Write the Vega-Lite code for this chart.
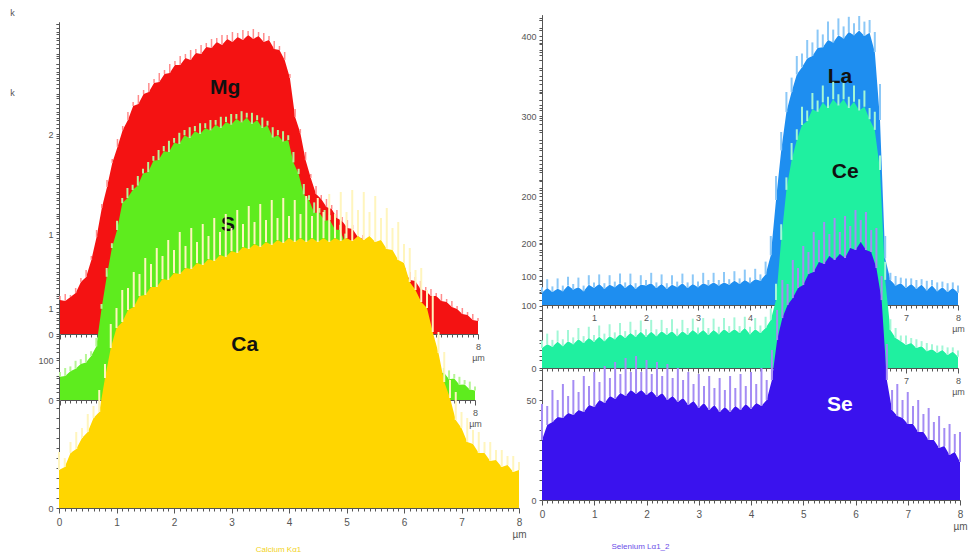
{
"$schema": "https://vega.github.io/schema/vega-lite/v6.json",
"width": 975, "height": 558, "autosize": {"type": "none"}, "padding": 0, "background": "white",
"config": {"view": {"stroke": null},
 "scale": {"nice": false},
 "axis": {"labelFont": "Liberation Sans", "labelFontSize": 9, "labelColor": "#555", "domainColor": "#555", "tickColor": "#555", "grid": false, "labelOverlap": false, "labelFlush": false, "labelPadding": 3, "titleFont": "Liberation Sans", "titleFontWeight": "normal", "titleFontSize": 9, "titleColor": "#555"},
 "text": {"font": "Liberation Sans", "fontWeight": "bold", "fontSize": 21, "color": "#111"}},
"datasets": {
"Mg": [{"x":0,"f":340,"p":380},{"x":0.1,"f":330,"p":400},{"x":0.2,"f":370,"p":390},{"x":0.3,"f":410,"p":460},{"x":0.4,"f":520,"p":560},{"x":0.5,"f":570,"p":640},{"x":0.6,"f":740,"p":780},{"x":0.7,"f":970,"p":1040},{"x":0.8,"f":1260,"p":1300},{"x":0.9,"f":1470,"p":1540},{"x":1,"f":1710,"p":1750},{"x":1.1,"f":1870,"p":1950},{"x":1.2,"f":2040,"p":2080},{"x":1.3,"f":2140,"p":2220},{"x":1.4,"f":2280,"p":2320},{"x":1.5,"f":2300,"p":2390},{"x":1.6,"f":2400,"p":2440},{"x":1.7,"f":2420,"p":2510},{"x":1.8,"f":2510,"p":2550},{"x":1.9,"f":2520,"p":2610},{"x":2,"f":2600,"p":2640},{"x":2.1,"f":2610,"p":2700},{"x":2.2,"f":2690,"p":2730},{"x":2.3,"f":2690,"p":2780},{"x":2.4,"f":2760,"p":2800},{"x":2.5,"f":2740,"p":2840},{"x":2.6,"f":2810,"p":2850},{"x":2.7,"f":2800,"p":2890},{"x":2.8,"f":2870,"p":2910},{"x":2.9,"f":2860,"p":2950},{"x":3,"f":2920,"p":2960},{"x":3.1,"f":2890,"p":2990},{"x":3.2,"f":2950,"p":2990},{"x":3.3,"f":2920,"p":3020},{"x":3.4,"f":2970,"p":3010},{"x":3.5,"f":2940,"p":3040},{"x":3.6,"f":2990,"p":3030},{"x":3.7,"f":2950,"p":3050},{"x":3.8,"f":2980,"p":3020},{"x":3.9,"f":2920,"p":3010},{"x":4,"f":2940,"p":2980},{"x":4.1,"f":2850,"p":2930},{"x":4.2,"f":2840,"p":2880},{"x":4.3,"f":2740,"p":2820},{"x":4.4,"f":2560,"p":2600},{"x":4.5,"f":2170,"p":2250},{"x":4.6,"f":2010,"p":2050},{"x":4.7,"f":1740,"p":1820},{"x":4.8,"f":1560,"p":1600},{"x":4.9,"f":1400,"p":1480},{"x":5,"f":1350,"p":1390},{"x":5.1,"f":1270,"p":1350},{"x":5.2,"f":1250,"p":1290},{"x":5.3,"f":1160,"p":1240},{"x":5.4,"f":1130,"p":1170},{"x":5.5,"f":1060,"p":1140},{"x":5.6,"f":1050,"p":1090},{"x":5.7,"f":970,"p":1050},{"x":5.8,"f":950,"p":990},{"x":5.9,"f":870,"p":950},{"x":6,"f":850,"p":890},{"x":6.1,"f":780,"p":860},{"x":6.2,"f":770,"p":810},{"x":6.3,"f":700,"p":780},{"x":6.4,"f":690,"p":730},{"x":6.5,"f":620,"p":700},{"x":6.6,"f":620,"p":660},{"x":6.7,"f":540,"p":620},{"x":6.8,"f":530,"p":570},{"x":6.9,"f":450,"p":530},{"x":7,"f":430,"p":470},{"x":7.1,"f":380,"p":450},{"x":7.2,"f":380,"p":410},{"x":7.3,"f":330,"p":400},{"x":7.4,"f":320,"p":350},{"x":7.5,"f":270,"p":330},{"x":7.6,"f":250,"p":280},{"x":7.7,"f":200,"p":260},{"x":7.8,"f":190,"p":220},{"x":7.9,"f":140,"p":200},{"x":8,"f":130,"p":160}],
"S": [{"x":0,"f":58,"p":70},{"x":0.1,"f":60,"p":80},{"x":0.2,"f":72,"p":84},{"x":0.3,"f":78,"p":98},{"x":0.4,"f":90,"p":102},{"x":0.5,"f":94,"p":115},{"x":0.6,"f":110,"p":122},{"x":0.7,"f":134,"p":155},{"x":0.8,"f":228,"p":240},{"x":0.9,"f":308,"p":330},{"x":1,"f":380,"p":392},{"x":1.1,"f":425,"p":448},{"x":1.2,"f":492,"p":505},{"x":1.3,"f":505,"p":530},{"x":1.4,"f":525,"p":538},{"x":1.5,"f":536,"p":560},{"x":1.6,"f":566,"p":578},{"x":1.7,"f":570,"p":595},{"x":1.8,"f":598,"p":610},{"x":1.9,"f":600,"p":625},{"x":2,"f":622,"p":635},{"x":2.1,"f":620,"p":648},{"x":2.2,"f":643,"p":655},{"x":2.3,"f":640,"p":668},{"x":2.4,"f":662,"p":675},{"x":2.5,"f":655,"p":682},{"x":2.6,"f":672,"p":685},{"x":2.7,"f":665,"p":692},{"x":2.8,"f":680,"p":692},{"x":2.9,"f":674,"p":700},{"x":3,"f":688,"p":700},{"x":3.1,"f":680,"p":708},{"x":3.2,"f":695,"p":708},{"x":3.3,"f":688,"p":715},{"x":3.4,"f":703,"p":715},{"x":3.5,"f":694,"p":722},{"x":3.6,"f":706,"p":718},{"x":3.7,"f":690,"p":718},{"x":3.8,"f":700,"p":712},{"x":3.9,"f":680,"p":706},{"x":4,"f":686,"p":698},{"x":4.1,"f":656,"p":682},{"x":4.2,"f":662,"p":675},{"x":4.3,"f":646,"p":672},{"x":4.4,"f":650,"p":662},{"x":4.5,"f":594,"p":620},{"x":4.6,"f":565,"p":578},{"x":4.7,"f":514,"p":540},{"x":4.8,"f":500,"p":512},{"x":4.9,"f":468,"p":494},{"x":5,"f":468,"p":480},{"x":5.1,"f":448,"p":475},{"x":5.2,"f":450,"p":462},{"x":5.3,"f":426,"p":452},{"x":5.4,"f":425,"p":438},{"x":5.5,"f":390,"p":416},{"x":5.6,"f":380,"p":392},{"x":5.7,"f":344,"p":370},{"x":5.8,"f":330,"p":342},{"x":5.9,"f":294,"p":320},{"x":6,"f":280,"p":292},{"x":6.1,"f":244,"p":270},{"x":6.2,"f":230,"p":242},{"x":6.3,"f":195,"p":220},{"x":6.4,"f":180,"p":192},{"x":6.5,"f":145,"p":170},{"x":6.6,"f":130,"p":142},{"x":6.7,"f":102,"p":126},{"x":6.8,"f":100,"p":112},{"x":6.9,"f":82,"p":104},{"x":7,"f":86,"p":98},{"x":7.1,"f":72,"p":94},{"x":7.2,"f":79,"p":90},{"x":7.3,"f":65,"p":86},{"x":7.4,"f":69,"p":80},{"x":7.5,"f":52,"p":74},{"x":7.6,"f":54,"p":65},{"x":7.7,"f":38,"p":58},{"x":7.8,"f":39,"p":50},{"x":7.9,"f":26,"p":46},{"x":8,"f":24,"p":34}],
"Ca": [{"x":0,"f":190,"p":280},{"x":0.1,"f":205,"p":250},{"x":0.2,"f":275,"p":330},{"x":0.3,"f":295,"p":380},{"x":0.4,"f":350,"p":400},{"x":0.5,"f":380,"p":470},{"x":0.6,"f":450,"p":510},{"x":0.7,"f":480,"p":590},{"x":0.8,"f":650,"p":720},{"x":0.9,"f":800,"p":920},{"x":1,"f":900,"p":1000},{"x":1.1,"f":930,"p":1090},{"x":1.2,"f":990,"p":1100},{"x":1.3,"f":1005,"p":1180},{"x":1.4,"f":1060,"p":1170},{"x":1.5,"f":1065,"p":1250},{"x":1.6,"f":1105,"p":1220},{"x":1.7,"f":1105,"p":1300},{"x":1.8,"f":1145,"p":1260},{"x":1.9,"f":1140,"p":1340},{"x":2,"f":1175,"p":1290},{"x":2.1,"f":1170,"p":1380},{"x":2.2,"f":1200,"p":1310},{"x":2.3,"f":1195,"p":1400},{"x":2.4,"f":1225,"p":1330},{"x":2.5,"f":1215,"p":1420},{"x":2.6,"f":1245,"p":1360},{"x":2.7,"f":1235,"p":1450},{"x":2.8,"f":1265,"p":1380},{"x":2.9,"f":1255,"p":1470},{"x":3,"f":1285,"p":1400},{"x":3.1,"f":1275,"p":1490},{"x":3.2,"f":1305,"p":1420},{"x":3.3,"f":1295,"p":1510},{"x":3.4,"f":1320,"p":1430},{"x":3.5,"f":1305,"p":1520},{"x":3.6,"f":1330,"p":1440},{"x":3.7,"f":1315,"p":1540},{"x":3.8,"f":1340,"p":1450},{"x":3.9,"f":1325,"p":1550},{"x":4,"f":1350,"p":1460},{"x":4.1,"f":1330,"p":1540},{"x":4.2,"f":1350,"p":1470},{"x":4.3,"f":1330,"p":1560},{"x":4.4,"f":1350,"p":1460},{"x":4.5,"f":1330,"p":1550},{"x":4.6,"f":1350,"p":1480},{"x":4.7,"f":1330,"p":1570},{"x":4.8,"f":1350,"p":1470},{"x":4.9,"f":1335,"p":1580},{"x":5,"f":1350,"p":1480},{"x":5.1,"f":1335,"p":1590},{"x":5.2,"f":1360,"p":1490},{"x":5.3,"f":1340,"p":1580},{"x":5.4,"f":1360,"p":1480},{"x":5.5,"f":1330,"p":1560},{"x":5.6,"f":1340,"p":1450},{"x":5.7,"f":1295,"p":1500},{"x":5.8,"f":1290,"p":1400},{"x":5.9,"f":1240,"p":1430},{"x":6,"f":1225,"p":1320},{"x":6.1,"f":1130,"p":1300},{"x":6.2,"f":1090,"p":1190},{"x":6.3,"f":1030,"p":1200},{"x":6.4,"f":1000,"p":1090},{"x":6.5,"f":880,"p":1060},{"x":6.6,"f":775,"p":880},{"x":6.7,"f":630,"p":780},{"x":6.8,"f":550,"p":640},{"x":6.9,"f":440,"p":580},{"x":7,"f":400,"p":480},{"x":7.1,"f":330,"p":450},{"x":7.2,"f":320,"p":390},{"x":7.3,"f":275,"p":380},{"x":7.4,"f":275,"p":330},{"x":7.5,"f":235,"p":330},{"x":7.6,"f":240,"p":290},{"x":7.7,"f":205,"p":290},{"x":7.8,"f":215,"p":260},{"x":7.9,"f":180,"p":260},{"x":8,"f":190,"p":230}],
"La": [{"x":0,"f":79,"p":86},{"x":0.1,"f":85,"p":96},{"x":0.2,"f":80,"p":87},{"x":0.3,"f":84,"p":97},{"x":0.4,"f":81,"p":88},{"x":0.5,"f":88,"p":99},{"x":0.6,"f":83,"p":90},{"x":0.7,"f":86,"p":98},{"x":0.8,"f":81,"p":88},{"x":0.9,"f":89,"p":101},{"x":1,"f":85,"p":92},{"x":1.1,"f":90,"p":102},{"x":1.2,"f":84,"p":91},{"x":1.3,"f":89,"p":101},{"x":1.4,"f":86,"p":93},{"x":1.5,"f":91,"p":103},{"x":1.6,"f":85,"p":92},{"x":1.7,"f":90,"p":103},{"x":1.8,"f":84,"p":91},{"x":1.9,"f":89,"p":101},{"x":2,"f":88,"p":95},{"x":2.1,"f":91,"p":104},{"x":2.2,"f":85,"p":92},{"x":2.3,"f":90,"p":102},{"x":2.4,"f":84,"p":91},{"x":2.5,"f":89,"p":101},{"x":2.6,"f":86,"p":93},{"x":2.7,"f":91,"p":103},{"x":2.8,"f":85,"p":92},{"x":2.9,"f":90,"p":102},{"x":3,"f":86,"p":93},{"x":3.1,"f":91,"p":104},{"x":3.2,"f":88,"p":95},{"x":3.3,"f":92,"p":104},{"x":3.4,"f":88,"p":95},{"x":3.5,"f":92,"p":105},{"x":3.6,"f":89,"p":96},{"x":3.7,"f":94,"p":106},{"x":3.8,"f":90,"p":97},{"x":3.9,"f":95,"p":108},{"x":4,"f":91,"p":98},{"x":4.1,"f":96,"p":109},{"x":4.2,"f":94,"p":102},{"x":4.3,"f":102,"p":118},{"x":4.4,"f":126,"p":150},{"x":4.5,"f":195,"p":225},{"x":4.6,"f":257,"p":280},{"x":4.7,"f":305,"p":330},{"x":4.8,"f":330,"p":348},{"x":4.9,"f":352,"p":375},{"x":5,"f":361,"p":378},{"x":5.1,"f":372,"p":395},{"x":5.2,"f":375,"p":392},{"x":5.3,"f":385,"p":408},{"x":5.4,"f":386,"p":402},{"x":5.5,"f":395,"p":418},{"x":5.6,"f":392,"p":408},{"x":5.7,"f":401,"p":422},{"x":5.8,"f":397,"p":412},{"x":5.9,"f":405,"p":424},{"x":6,"f":401,"p":416},{"x":6.1,"f":407,"p":425},{"x":6.2,"f":400,"p":418},{"x":6.3,"f":404,"p":420},{"x":6.4,"f":380,"p":405},{"x":6.5,"f":295,"p":340},{"x":6.6,"f":122,"p":150},{"x":6.7,"f":95,"p":104},{"x":6.8,"f":88,"p":100},{"x":6.9,"f":91,"p":98},{"x":7,"f":85,"p":97},{"x":7.1,"f":90,"p":97},{"x":7.2,"f":84,"p":95},{"x":7.3,"f":89,"p":96},{"x":7.4,"f":82,"p":94},{"x":7.5,"f":88,"p":95},{"x":7.6,"f":81,"p":92},{"x":7.7,"f":86,"p":93},{"x":7.8,"f":80,"p":91},{"x":7.9,"f":85,"p":92},{"x":8,"f":79,"p":88}],
"Ce": [{"x":0,"f":32,"p":44},{"x":0.1,"f":38,"p":55},{"x":0.2,"f":34,"p":45},{"x":0.3,"f":42,"p":60},{"x":0.4,"f":35,"p":46},{"x":0.5,"f":43,"p":61},{"x":0.6,"f":38,"p":49},{"x":0.7,"f":46,"p":64},{"x":0.8,"f":40,"p":51},{"x":0.9,"f":48,"p":66},{"x":1,"f":42,"p":53},{"x":1.1,"f":50,"p":68},{"x":1.2,"f":43,"p":55},{"x":1.3,"f":51,"p":70},{"x":1.4,"f":46,"p":57},{"x":1.5,"f":54,"p":72},{"x":1.6,"f":48,"p":59},{"x":1.7,"f":56,"p":74},{"x":1.8,"f":50,"p":61},{"x":1.9,"f":58,"p":76},{"x":2,"f":50,"p":62},{"x":2.1,"f":58,"p":77},{"x":2.2,"f":51,"p":62},{"x":2.3,"f":59,"p":77},{"x":2.4,"f":53,"p":64},{"x":2.5,"f":59,"p":78},{"x":2.6,"f":51,"p":63},{"x":2.7,"f":59,"p":77},{"x":2.8,"f":53,"p":64},{"x":2.9,"f":61,"p":79},{"x":3,"f":54,"p":65},{"x":3.1,"f":61,"p":80},{"x":3.2,"f":53,"p":64},{"x":3.3,"f":61,"p":79},{"x":3.4,"f":54,"p":66},{"x":3.5,"f":62,"p":80},{"x":3.6,"f":56,"p":67},{"x":3.7,"f":62,"p":81},{"x":3.8,"f":56,"p":67},{"x":3.9,"f":64,"p":82},{"x":4,"f":54,"p":66},{"x":4.1,"f":62,"p":80},{"x":4.2,"f":56,"p":68},{"x":4.3,"f":64,"p":82},{"x":4.4,"f":77,"p":95},{"x":4.5,"f":109,"p":135},{"x":4.6,"f":205,"p":230},{"x":4.7,"f":285,"p":305},{"x":4.8,"f":333,"p":360},{"x":4.9,"f":365,"p":382},{"x":5,"f":389,"p":418},{"x":5.1,"f":395,"p":412},{"x":5.2,"f":414,"p":440},{"x":5.3,"f":410,"p":428},{"x":5.4,"f":425,"p":452},{"x":5.5,"f":416,"p":434},{"x":5.6,"f":430,"p":458},{"x":5.7,"f":420,"p":438},{"x":5.8,"f":430,"p":456},{"x":5.9,"f":416,"p":434},{"x":6,"f":426,"p":452},{"x":6.1,"f":412,"p":430},{"x":6.2,"f":418,"p":444},{"x":6.3,"f":398,"p":416},{"x":6.4,"f":381,"p":410},{"x":6.5,"f":317,"p":340},{"x":6.6,"f":141,"p":170},{"x":6.7,"f":61,"p":78},{"x":6.8,"f":48,"p":64},{"x":6.9,"f":43,"p":52},{"x":7,"f":37,"p":52},{"x":7.1,"f":40,"p":48},{"x":7.2,"f":32,"p":46},{"x":7.3,"f":35,"p":43},{"x":7.4,"f":27,"p":40},{"x":7.5,"f":30,"p":38},{"x":7.6,"f":24,"p":36},{"x":7.7,"f":29,"p":36},{"x":7.8,"f":21,"p":33},{"x":7.9,"f":26,"p":33},{"x":8,"f":18,"p":28}],
"Se": [{"x":0,"f":30,"p":48},{"x":0.1,"f":37.5,"p":47},{"x":0.2,"f":39,"p":55},{"x":0.3,"f":41.5,"p":50},{"x":0.4,"f":41,"p":58},{"x":0.5,"f":43.5,"p":52},{"x":0.6,"f":42.5,"p":60},{"x":0.7,"f":45,"p":54},{"x":0.8,"f":44,"p":62},{"x":0.9,"f":47.5,"p":57},{"x":1,"f":46.5,"p":64},{"x":1.1,"f":50,"p":59},{"x":1.2,"f":48.5,"p":67},{"x":1.3,"f":52,"p":61},{"x":1.4,"f":50.5,"p":69},{"x":1.5,"f":53.5,"p":63},{"x":1.6,"f":52,"p":71},{"x":1.7,"f":55,"p":64},{"x":1.8,"f":53,"p":72},{"x":1.9,"f":55,"p":64},{"x":2,"f":52.5,"p":70},{"x":2.1,"f":54.5,"p":63},{"x":2.2,"f":51.5,"p":69},{"x":2.3,"f":53.5,"p":62},{"x":2.4,"f":50,"p":68},{"x":2.5,"f":52,"p":61},{"x":2.6,"f":49,"p":66},{"x":2.7,"f":51,"p":60},{"x":2.8,"f":47.5,"p":64},{"x":2.9,"f":49.5,"p":58},{"x":3,"f":46,"p":63},{"x":3.1,"f":48.5,"p":57},{"x":3.2,"f":45,"p":62},{"x":3.3,"f":47.5,"p":56},{"x":3.4,"f":44,"p":61},{"x":3.5,"f":46.5,"p":55},{"x":3.6,"f":44,"p":62},{"x":3.7,"f":47,"p":56},{"x":3.8,"f":45,"p":63},{"x":3.9,"f":48,"p":57},{"x":4,"f":45.5,"p":64},{"x":4.1,"f":48.5,"p":58},{"x":4.2,"f":47,"p":66},{"x":4.3,"f":50,"p":60},{"x":4.4,"f":60,"p":75},{"x":4.5,"f":80,"p":95},{"x":4.6,"f":91,"p":110},{"x":4.7,"f":97.5,"p":108},{"x":4.8,"f":101,"p":120},{"x":4.9,"f":106,"p":116},{"x":5,"f":107.5,"p":127},{"x":5.1,"f":113,"p":124},{"x":5.2,"f":114,"p":134},{"x":5.3,"f":119,"p":130},{"x":5.4,"f":118,"p":139},{"x":5.5,"f":122,"p":133},{"x":5.6,"f":120,"p":141},{"x":5.7,"f":123,"p":134},{"x":5.8,"f":121,"p":142},{"x":5.9,"f":126,"p":137},{"x":6,"f":125,"p":145},{"x":6.1,"f":129,"p":140},{"x":6.2,"f":125,"p":144},{"x":6.3,"f":124,"p":135},{"x":6.4,"f":116,"p":136},{"x":6.5,"f":100,"p":112},{"x":6.6,"f":60,"p":78},{"x":6.7,"f":45,"p":55},{"x":6.8,"f":42,"p":58},{"x":6.9,"f":41,"p":50},{"x":7,"f":38,"p":54},{"x":7.1,"f":38,"p":47},{"x":7.2,"f":34,"p":50},{"x":7.3,"f":34,"p":43},{"x":7.4,"f":30,"p":46},{"x":7.5,"f":30,"p":39},{"x":7.6,"f":26,"p":42},{"x":7.7,"f":27,"p":36},{"x":7.8,"f":22.5,"p":38},{"x":7.9,"f":24,"p":33},{"x":8,"f":19,"p":34}]
},
"layer": [
 {"data": {"name": "Mg"},
  "layer": [
   {"mark": {"type": "area", "color": "#f41212"}, "encoding": {
     "x": {"field": "x", "type": "quantitative", "scale": {"domain": [0, 8], "range": [60, 478], "nice": false},
       "axis": {"orient": "bottom", "offset": -224, "tickCount": 80, "tickSize": {"condition": {"test": "datum.value % 1 === 0", "value": 5}, "value": 3}, "labelExpr": "datum.value === 8 ? ['8', 'µm'] : ''", "title": null}},
     "y": {"field": "f", "type": "quantitative", "scale": {"domain": [0, 3120], "range": [334, 22], "nice": false},
       "axis": {"orient": "left", "offset": -59, "tickCount": 31, "tickSize": 3, "labelExpr": "datum.value === 0 || datum.value === 1000 || datum.value === 2000 ? format(datum.value / 1000, 'd') : ''", "title": "k", "titleX": -47, "titleY": 92, "titleAngle": 0, "titleAlign": "center", "titleBaseline": "middle"}}}},
   {"mark": {"type": "rule", "color": "#ff8c8c", "strokeWidth": 1.5}, "encoding": {"x": {"field": "x", "type": "quantitative"}, "y": {"field": "p", "type": "quantitative"}, "y2": {"field": "f"}}},
   {"data": {"values": [{"t": "Mg"}]}, "mark": {"type": "text"}, "encoding": {"x": {"datum": 3.16}, "y": {"datum": 2460}, "text": {"field": "t"}}}
  ]},
 {"data": {"name": "S"},
  "layer": [
   {"mark": {"type": "area", "color": "#5eec1e"}, "encoding": {
     "x": {"field": "x", "type": "quantitative", "scale": {"domain": [0, 8], "range": [60, 475], "nice": false},
       "axis": {"orient": "bottom", "offset": -158, "tickCount": 80, "tickSize": {"condition": {"test": "datum.value % 1 === 0", "value": 5}, "value": 3}, "labelExpr": "datum.value === 8 ? ['8', 'µm'] : ''", "title": null}},
     "y": {"field": "f", "type": "quantitative", "scale": {"domain": [0, 945], "range": [400, 22], "nice": false},
       "axis": {"orient": "left", "offset": -59, "tickCount": 47, "tickSize": 3, "labelExpr": "datum.value === 0 || datum.value === 100 ? format(datum.value, 'd') : ''", "title": null}}}},
   {"mark": {"type": "rule", "color": "#b6f596", "strokeWidth": 2}, "encoding": {"x": {"field": "x", "type": "quantitative"}, "y": {"field": "p", "type": "quantitative"}, "y2": {"field": "f"}}},
   {"data": {"values": [{"t": "S"}]}, "mark": {"type": "text"}, "encoding": {"x": {"datum": 3.24}, "y": {"datum": 437}, "text": {"field": "t"}}}
  ]},
 {"data": {"name": "Ca"},
  "layer": [
   {"mark": {"type": "area", "color": "#ffd600"}, "encoding": {
     "x": {"field": "x", "type": "quantitative", "scale": {"domain": [0, 8], "range": [59, 519], "nice": false},
       "axis": {"orient": "bottom", "offset": -50, "tickCount": 80, "tickSize": {"condition": {"test": "datum.value % 1 === 0", "value": 5}, "value": 3}, "labelPadding": 4, "labelFontSize": 10, "labelExpr": "datum.value % 1 === 0 ? (datum.value === 8 ? ['8', 'µm'] : format(datum.value, 'd')) : ''", "title": "Calcium Kα1", "titleColor": "#f2d21a", "titleFontSize": 8, "titleX": 278, "titleY": 37}},
     "y": {"field": "f", "type": "quantitative", "scale": {"domain": [0, 2415], "range": [508, 25], "nice": false},
       "axis": {"orient": "left", "offset": -59, "tickCount": 48, "tickSize": 3, "labelExpr": "datum.value === 0 || datum.value === 1000 ? format(datum.value / 1000, 'd') : ''", "title": "k", "titleX": -47, "titleY": 12, "titleAngle": 0, "titleAlign": "center", "titleBaseline": "middle"}}}},
   {"mark": {"type": "rule", "color": "#fff5bd", "strokeWidth": 2}, "encoding": {"x": {"field": "x", "type": "quantitative"}, "y": {"field": "p", "type": "quantitative"}, "y2": {"field": "f"}}},
   {"data": {"values": [{"t": "Ca"}]}, "mark": {"type": "text"}, "encoding": {"x": {"datum": 3.23}, "y": {"datum": 815}, "text": {"field": "t"}}}
  ]},
 {"data": {"name": "La"},
  "layer": [
   {"mark": {"type": "area", "color": "#1e8ef0"}, "encoding": {
     "x": {"field": "x", "type": "quantitative", "scale": {"domain": [0, 8], "range": [542, 958], "nice": false},
       "axis": {"orient": "bottom", "offset": -253, "tickCount": 80, "tickSize": {"condition": {"test": "datum.value % 1 === 0", "value": 5}, "value": 3}, "labelExpr": "datum.value % 1 === 0 && datum.value > 0 ? (datum.value === 8 ? ['8', 'µm'] : format(datum.value, 'd')) : ''", "title": null}},
     "y": {"field": "f", "type": "quantitative", "scale": {"domain": [63.75, 426.25], "range": [305, 15], "nice": false, "zero": false},
       "axis": {"orient": "left", "offset": -542, "tickCount": 36, "tickSize": 3, "labelExpr": "datum.value % 100 === 0 ? format(datum.value, 'd') : ''", "title": null}},
     "y2": {"datum": 63.75}}},
   {"mark": {"type": "rule", "color": "#8cc8f7", "strokeWidth": 2}, "encoding": {"x": {"field": "x", "type": "quantitative"}, "y": {"field": "p", "type": "quantitative"}, "y2": {"field": "f"}}},
   {"data": {"values": [{"t": "La"}]}, "mark": {"type": "text"}, "encoding": {"x": {"datum": 5.73}, "y": {"datum": 349}, "text": {"field": "t"}}}
  ]},
 {"data": {"name": "Ce"},
  "layer": [
   {"mark": {"type": "area", "color": "#1ff0a0"}, "encoding": {
     "x": {"field": "x", "type": "quantitative", "scale": {"domain": [0, 8], "range": [542, 958], "nice": false},
       "axis": {"orient": "bottom", "offset": -190, "tickCount": 80, "tickSize": {"condition": {"test": "datum.value % 1 === 0", "value": 5}, "value": 3}, "labelExpr": "datum.value === 7 ? '7' : (datum.value === 8 ? ['8', 'µm'] : '')", "title": null}},
     "y": {"field": "f", "type": "quantitative", "scale": {"domain": [0, 564.8], "range": [368, 15], "nice": false},
       "axis": {"orient": "left", "offset": -542, "tickCount": 28, "tickSize": 3, "labelExpr": "datum.value === 0 || datum.value === 100 || datum.value === 200 ? format(datum.value, 'd') : ''", "title": null}}}},
   {"mark": {"type": "rule", "color": "#a2f7d6", "strokeWidth": 2}, "encoding": {"x": {"field": "x", "type": "quantitative"}, "y": {"field": "p", "type": "quantitative"}, "y2": {"field": "f"}}},
   {"data": {"values": [{"t": "Ce"}]}, "mark": {"type": "text"}, "encoding": {"x": {"datum": 5.83}, "y": {"datum": 314}, "text": {"field": "t"}}}
  ]},
 {"data": {"name": "Se"},
  "layer": [
   {"mark": {"type": "area", "color": "#3a12ee"}, "encoding": {
     "x": {"field": "x", "type": "quantitative", "scale": {"domain": [0, 8], "range": [542, 960], "nice": false},
       "axis": {"orient": "bottom", "offset": -58, "tickCount": 80, "tickSize": {"condition": {"test": "datum.value % 1 === 0", "value": 5}, "value": 3}, "labelPadding": 4, "labelFontSize": 10, "labelExpr": "datum.value % 1 === 0 ? (datum.value === 8 ? ['8', 'µm'] : format(datum.value, 'd')) : ''", "title": "Selenium Lα1_2", "titleColor": "#6a4ee8", "titleFontSize": 8, "titleX": 640, "titleY": 42}},
     "y": {"field": "f", "type": "quantitative", "scale": {"domain": [0, 242.5], "range": [500, 15], "nice": false},
       "axis": {"orient": "left", "offset": -542, "tickCount": 48, "tickSize": 3, "labelExpr": "datum.value === 0 || datum.value === 50 ? format(datum.value, 'd') : ''", "title": null}}}},
   {"mark": {"type": "rule", "color": "#a48cf4", "strokeWidth": 2}, "encoding": {"x": {"field": "x", "type": "quantitative"}, "y": {"field": "p", "type": "quantitative"}, "y2": {"field": "f"}}},
   {"data": {"values": [{"t": "Se"}]}, "mark": {"type": "text", "color": "#ffffff"}, "encoding": {"x": {"datum": 5.7}, "y": {"datum": 47.5}, "text": {"field": "t"}}}
  ]}
],
"resolve": {"scale": {"x": "independent", "y": "independent"}, "axis": {"x": "independent", "y": "independent"}}
}
